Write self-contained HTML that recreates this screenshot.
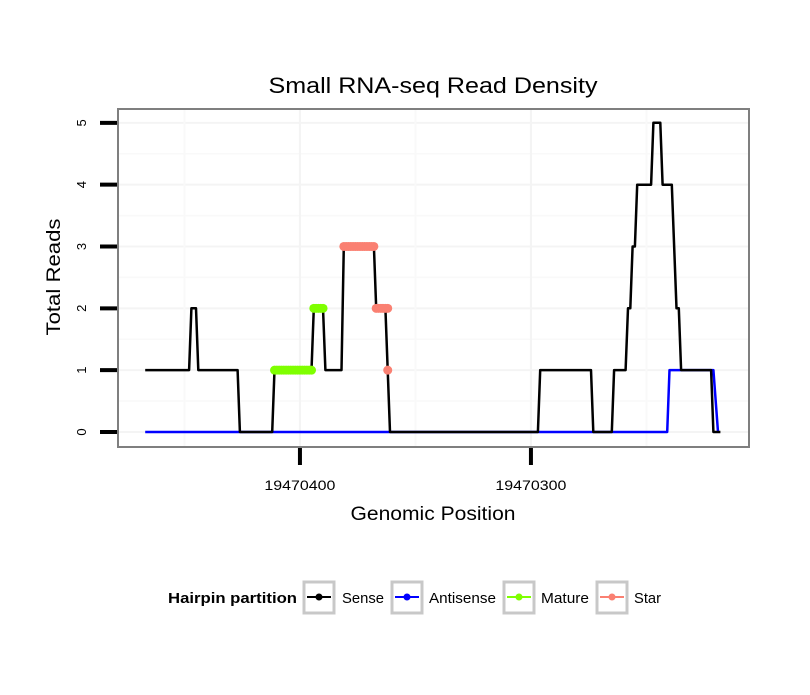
<!DOCTYPE html>
<html><head><meta charset="utf-8"><style>
body{margin:0;background:#fff;font-family:"Liberation Sans",sans-serif}
svg text{font-family:"Liberation Sans",sans-serif}
</style></head><body>
<svg id="c" width="810" height="690" xmlns="http://www.w3.org/2000/svg">
<rect width="810" height="690" fill="#fff"/>
<text x="433" y="93" font-size="22" text-anchor="middle" textLength="329" lengthAdjust="spacingAndGlyphs">Small RNA-seq Read Density</text>
<rect x="118" y="109" width="631" height="338" fill="#fff"/>
<g id="grid"></g>
<g id="series"></g>
<rect x="118" y="109" width="631" height="338" fill="none" stroke="#7f7f7f" stroke-width="2"/>
<g id="axes"></g>
<text x="433" y="520" font-size="19" text-anchor="middle" textLength="165" lengthAdjust="spacingAndGlyphs">Genomic Position</text>
<text transform="translate(60,277) rotate(-90)" font-size="19" text-anchor="middle" textLength="117" lengthAdjust="spacingAndGlyphs">Total Reads</text>
<g>
<text x="168" y="603" font-size="15" font-weight="bold" textLength="129" lengthAdjust="spacingAndGlyphs">Hairpin partition</text>
<g><rect x="304" y="582" width="30" height="31" fill="#fff" stroke="#c8c8c8" stroke-width="3"/><line x1="307" y1="597" x2="331" y2="597" stroke="#000" stroke-width="2"/><circle cx="319" cy="597" r="3.5" fill="#000"/><text x="342" y="603" font-size="15" textLength="42" lengthAdjust="spacingAndGlyphs">Sense</text></g>
<g><rect x="392" y="582" width="30" height="31" fill="#fff" stroke="#c8c8c8" stroke-width="3"/><line x1="395" y1="597" x2="419" y2="597" stroke="#00f" stroke-width="2"/><circle cx="407" cy="597" r="3.5" fill="#00f"/><text x="429" y="603" font-size="15" textLength="67" lengthAdjust="spacingAndGlyphs">Antisense</text></g>
<g><rect x="504" y="582" width="30" height="31" fill="#fff" stroke="#c8c8c8" stroke-width="3"/><line x1="507" y1="597" x2="531" y2="597" stroke="#7fff00" stroke-width="2"/><circle cx="519" cy="597" r="3.5" fill="#7fff00"/><text x="541" y="603" font-size="15" textLength="48" lengthAdjust="spacingAndGlyphs">Mature</text></g>
<g><rect x="597" y="582" width="30" height="31" fill="#fff" stroke="#c8c8c8" stroke-width="3"/><line x1="600" y1="597" x2="624" y2="597" stroke="#fa8072" stroke-width="2"/><circle cx="612" cy="597" r="3.5" fill="#fa8072"/><text x="634" y="603" font-size="15" textLength="27" lengthAdjust="spacingAndGlyphs">Star</text></g>
</g>
</svg>
<script>
const BASE = 19470000;
const senseX = [467,448,447,445,444,427,426,412,411,395,394,390,389,382,381,368,367,363,362,361,297,296,274,273,265,264,259,258,257,256,255,254,248,247,244,243,239,237,236,235,222,221,218];
const senseY = [1,1,2,2,1,1,0,0,1,1,2,2,1,1,3,3,2,2,1,0,0,1,1,0,0,1,1,2,2,3,3,4,4,5,5,4,4,2,2,1,1,0,0];
const antiX = [467,241,240,221,219];
const antiY = [0,0,1,1,0];
const matureX = [411,395,394,390];
const matureY = [1,1,2,2];
const starX = [381,368,367,362,362];
const starY = [3,3,2,2,1];
const xTicks = [400,300];
const xTickLabels = ["19470400","19470300"];
const yTicks = [0,1,2,3,4,5];
const yTickLabels = ["0","1","2","3","4","5"];

const NS="http://www.w3.org/2000/svg";
const X0=117,X1=749,Y0=108,Y1=447, DX0=479.2, DX1=205.6, DY0=-0.243, DY1=5.24;
const sx=v=>X0+(v-DX0)/(DX1-DX0)*(X1-X0);
const sy=v=>Y1-(v-DY0)/(DY1-DY0)*(Y1-Y0);
function mk(t,a,p){const e=document.createElementNS(NS,t);for(const k in a)e.setAttribute(k,a[k]);p.appendChild(e);return e;}
const grid=document.getElementById('grid'),ser=document.getElementById('series'),ax=document.getElementById('axes');
for(let v=-0.5;v<=5.5;v+=0.5){if(v<DY0||v>DY1)continue;const l=mk('line',{x1:119,x2:748,y1:sy(v),y2:sy(v),stroke:Number.isInteger(v)?'#f4f4f4':'#f9f9f9','stroke-width':Number.isInteger(v)?2:1.5},grid);

}
[450,400,350,300,250].forEach(v=>{const l=mk('line',{x1:sx(v),x2:sx(v),y1:110,y2:446,stroke:v%100?'#f9f9f9':'#f4f4f4','stroke-width':2},grid);

});
function line(xs,ys,col,name){const d=xs.map((x,i)=>(i?'L':'M')+sx(x).toFixed(1)+','+sy(ys[i]).toFixed(1)).join('');const p=mk('path',{d:d,fill:'none',stroke:col,'stroke-width':2.5,'stroke-linejoin':'round'},ser);

}
function pts(xs,ys,col,name){for(let i=0;i<xs.length-1;i++){if(ys[i]!==ys[i+1])continue;for(let x=xs[i];x>=xs[i+1];x--){const c=mk('circle',{cx:sx(x),cy:sy(ys[i]),r:4.5,fill:col},ser);

}}
if(ys[ys.length-1]!==ys[ys.length-2]){const c=mk('circle',{cx:sx(xs[xs.length-1]),cy:sy(ys[ys.length-1]),r:4.5,fill:col},ser);

}}
line(antiX,antiY,'#0000ff','antisense-line');
line(senseX,senseY,'#000','sense-line');
pts(matureX,matureY,'#7fff00','mature-point');
pts(starX,starY,'#fa8072','star-point');
yTicks.forEach((v,i)=>{const t=mk('line',{x1:100,x2:117,y1:sy(v),y2:sy(v),stroke:'#000','stroke-width':4},ax);


const tx=mk('text',{transform:`translate(86,${sy(v)}) rotate(-90)`,'font-size':13,'text-anchor':'middle'},ax);tx.textContent=yTickLabels[i];

});
xTicks.forEach((v,i)=>{const t=mk('line',{x1:sx(v),x2:sx(v),y1:448,y2:465,stroke:'#000','stroke-width':4},ax);


const tx=mk('text',{x:sx(v),y:490,'font-size':14,'text-anchor':'middle',textLength:71,lengthAdjust:'spacingAndGlyphs'},ax);tx.textContent=xTickLabels[i];

});
</script>
</body></html>
